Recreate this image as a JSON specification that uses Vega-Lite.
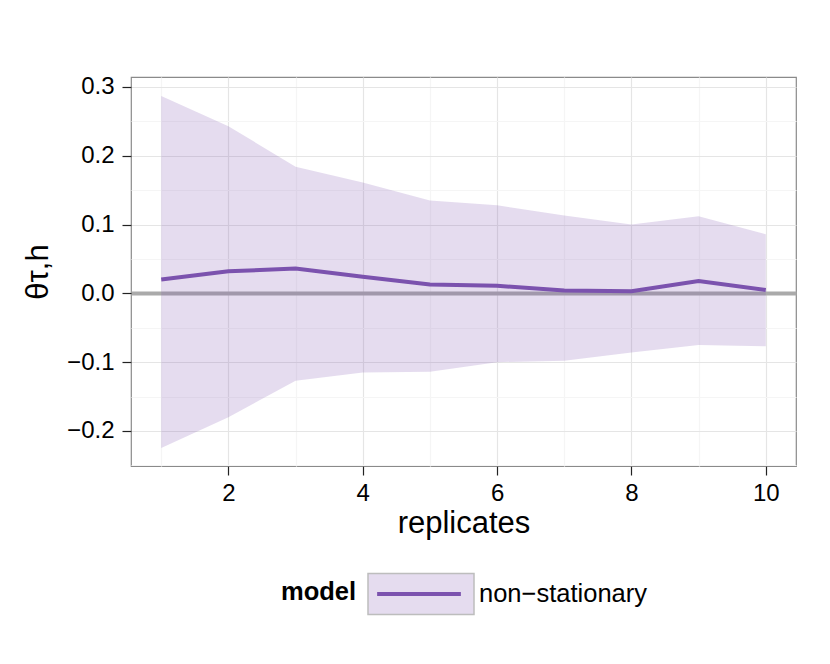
{
  "$schema": "https://vega.github.io/schema/vega-lite/v6.json",
  "width": 665,
  "height": 389,
  "autosize": "none",
  "padding": {"left": 131, "top": 77, "right": 34, "bottom": 198},
  "background": "white",
  "config": {
    "font": "Liberation Sans",
    "view": {"stroke": "#8A8A8A", "strokeWidth": 1.2},
    "axis": {
      "domain": false,
      "labelFont": "Liberation Sans",
      "labelFontSize": 24,
      "labelColor": "black",
      "tickColor": "#222222",
      "tickSize": 9,
      "tickWidth": 1.2,
      "titleFont": "Liberation Sans",
      "titleFontSize": 31,
      "titleFontWeight": "normal",
      "titleColor": "black"
    }
  },
  "data": {
    "values": [
      {"replicates": 1, "est": 0.020, "lo": -0.225, "hi": 0.287, "model": "non−stationary"},
      {"replicates": 2, "est": 0.032, "lo": -0.180, "hi": 0.243, "model": "non−stationary"},
      {"replicates": 3, "est": 0.036, "lo": -0.127, "hi": 0.184, "model": "non−stationary"},
      {"replicates": 4, "est": 0.024, "lo": -0.115, "hi": 0.161, "model": "non−stationary"},
      {"replicates": 5, "est": 0.013, "lo": -0.114, "hi": 0.135, "model": "non−stationary"},
      {"replicates": 6, "est": 0.011, "lo": -0.100, "hi": 0.128, "model": "non−stationary"},
      {"replicates": 7, "est": 0.004, "lo": -0.098, "hi": 0.113, "model": "non−stationary"},
      {"replicates": 8, "est": 0.003, "lo": -0.086, "hi": 0.100, "model": "non−stationary"},
      {"replicates": 9, "est": 0.018, "lo": -0.075, "hi": 0.112, "model": "non−stationary"},
      {"replicates": 10, "est": 0.005, "lo": -0.077, "hi": 0.086, "model": "non−stationary"}
    ]
  },
  "encoding": {
    "x": {
      "field": "replicates",
      "type": "quantitative",
      "scale": {"domain": [0.55, 10.45], "nice": false, "zero": false},
      "axis": {
        "title": "replicates",
        "values": [1, 2, 3, 4, 5, 6, 7, 8, 9, 10],
        "labelExpr": "datum.value % 2 == 0 ? datum.label : ''",
        "labelPadding": 6,
        "tickOpacity": {"condition": {"test": "datum.value % 2 == 0", "value": 1}, "value": 0},
        "gridColor": {"condition": {"test": "datum.value % 2 == 0", "value": "#E5E5E5"}, "value": "#F5F5F5"},
        "gridWidth": 1.2,
        "titleY": 66,
        "titleBaseline": "alphabetic"
      }
    },
    "y": {
      "field": "lo",
      "type": "quantitative",
      "scale": {"domain": [-0.251, 0.3145], "nice": false, "zero": false},
      "axis": {
        "title": "θτ,h",
        "values": [-0.25, -0.2, -0.15, -0.1, -0.05, 0, 0.05, 0.1, 0.15, 0.2, 0.25, 0.3],
        "format": ".1f",
        "labelExpr": "abs(round(datum.value * 100)) % 10 == 0 ? datum.label : ''",
        "labelPadding": 8,
        "tickOpacity": {"condition": {"test": "abs(round(datum.value * 100)) % 10 == 0", "value": 1}, "value": 0},
        "gridColor": {
          "condition": [
            {"test": "abs(datum.value) < 0.001", "value": "#AAAAAA"},
            {"test": "abs(round(datum.value * 100)) % 10 == 0", "value": "#E5E5E5"}
          ],
          "value": "#F5F5F5"
        },
        "gridWidth": {"condition": {"test": "abs(datum.value) < 0.001", "value": 4}, "value": 1.2},
        "titleX": -93,
        "titleY": 194.5,
        "titleAlign": "center",
        "titleBaseline": "middle"
      }
    }
  },
  "layer": [
    {
      "mark": {"type": "area", "fillOpacity": 0.2},
      "encoding": {
        "y2": {"field": "hi"},
        "fill": {
          "field": "model",
          "type": "nominal",
          "scale": {"domain": ["non−stationary"], "range": ["#7B52AE"]},
          "legend": {
            "orient": "none",
            "legendX": 150,
            "legendY": 463,
            "padding": 0,
            "title": ["", "model"],
            "titleOrient": "left",
            "titleLineHeight": 26,
            "titleFont": "Liberation Sans",
            "titleFontSize": 25.5,
            "titleFontWeight": "bold",
            "titleColor": "black",
            "titlePadding": 10,
            "labelFont": "Liberation Sans",
            "labelFontSize": 25.5,
            "labelColor": "black",
            "labelLimit": 400,
            "labelOffset": 4,
            "symbolType": "M-1,-0.387H1V0.387H-1Z",
            "symbolSize": 11236,
            "encode": {
              "symbols": {
                "update": {
                  "fillOpacity": {"value": 0.2},
                  "stroke": {"value": "#BDBDBD"},
                  "strokeWidth": {"value": 1.5}
                }
              }
            }
          }
        }
      }
    },
    {
      "mark": {"type": "line", "strokeWidth": 4},
      "encoding": {
        "y": {"field": "est", "type": "quantitative"},
        "stroke": {
          "field": "model",
          "type": "nominal",
          "scale": {"range": ["#7B52AE"]},
          "legend": {
            "orient": "none",
            "legendX": 233,
            "legendY": 462,
            "padding": 0,
            "title": null,
            "labelExpr": "''",
            "labelFontSize": 25.5,
            "labelOffset": 4,
            "symbolType": "M-0.79,0H0.79",
            "symbolSize": 11236,
            "symbolStrokeWidth": 4
          }
        }
      }
    }
  ]
}
